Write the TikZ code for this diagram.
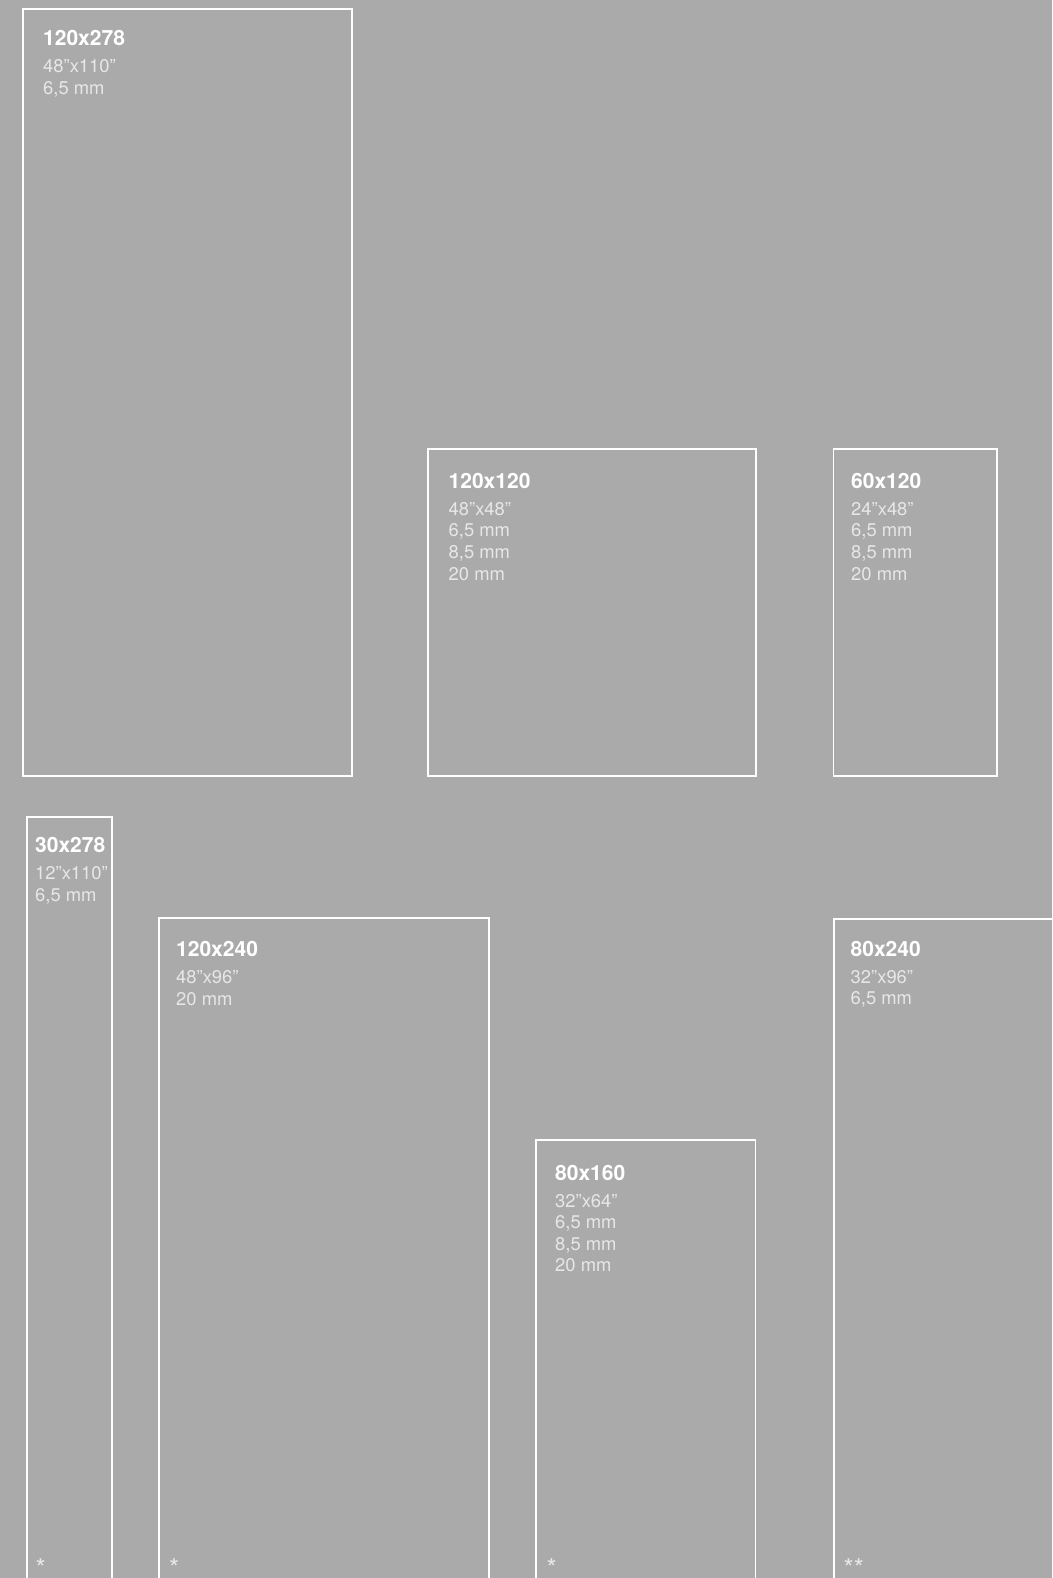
\documentclass[tikz,border=0pt]{standalone}
\usepackage{fontspec}
\setmainfont{TeX Gyre Heros}
\definecolor{sfondo}{HTML}{A9AAA9}
\definecolor{grigiochiaro}{HTML}{E6E7E6}
\tikzset{
    lastra/.style={draw=white, line width=1.8pt},
    titolo/.style={anchor=base west, inner sep=0pt, text=white, font=\fontsize{21}{24}\selectfont\bfseries},
    dettaglio/.style={anchor=base west, inner sep=0pt, text=grigiochiaro, font=\fontsize{18.4}{22}\selectfont},
    nota/.style={anchor=base west, inner sep=0pt, text=grigiochiaro, font=\fontsize{26}{26}\selectfont}
}
\begin{document}
\begin{tikzpicture}[x=1pt, y=-1pt]
    % Sfondo
    \fill[sfondo] (0,0) rectangle (1052,1578);
    \clip (0,0) rectangle (1052,1578);
    \useasboundingbox (0,0) rectangle (1052,1578);
    % Lastra 120x278
    \draw[lastra] (23,9) rectangle (352,776);
    \node[titolo] (t120x278) at (43,45.7) {120x278};
    \foreach \riga [count=\i] in {48”x110”, {6,5 mm}}
        \node[dettaglio] (d120x278-\i) at (43,{45.7+5.4+21.6*\i}) {\riga};
    % Lastra 120x120
    \draw[lastra] (428.3,449) rectangle (755.7,776);
    \node[titolo] (t120x120) at (448.5,488.3) {120x120};
    \foreach \riga [count=\i] in {48”x48”, {6,5 mm}, {8,5 mm}, 20 mm}
        \node[dettaglio] (d120x120-\i) at (448.5,{488.3+5.4+21.6*\i}) {\riga};
    % Lastra 60x120
    \draw[lastra] (833.5,449) rectangle (996.6,776);
    \node[titolo] (t60x120) at (851,488.3) {60x120};
    \foreach \riga [count=\i] in {24”x48”, {6,5 mm}, {8,5 mm}, 20 mm}
        \node[dettaglio] (d60x120-\i) at (851,{488.3+5.4+21.6*\i}) {\riga};
    % Lastra 30x278
    \draw[lastra] (27.3,1600) -- (27.3,817.3) -- (112,817.3) -- (112,1600);
    \node[titolo] (t30x278) at (35,852.7) {30x278};
    \foreach \riga [count=\i] in {12”x110”, {6,5 mm}}
        \node[dettaglio] (d30x278-\i) at (35,{852.7+5.4+21.6*\i}) {\riga};
    \node[nota] (n30x278) at (35.5,1577.5) {*};
    % Lastra 120x240
    \draw[lastra] (159.3,1600) -- (159.3,918.3) -- (489.3,918.3) -- (489.3,1600);
    \node[titolo] (t120x240) at (176,956.7) {120x240};
    \foreach \riga [count=\i] in {48”x96”, 20 mm}
        \node[dettaglio] (d120x240-\i) at (176,{956.7+5.4+21.6*\i}) {\riga};
    \node[nota] (n120x240) at (168.8,1577.5) {*};
    % Lastra 80x160
    \draw[lastra] (536.3,1600) -- (536.3,1139.6) -- (755.5,1139.6) -- (755.5,1600);
    \node[titolo] (t80x160) at (555,1180) {80x160};
    \foreach \riga [count=\i] in {32”x64”, {6,5 mm}, {8,5 mm}, 20 mm}
        \node[dettaglio] (d80x160-\i) at (555,{1180+5.4+21.6*\i}) {\riga};
    \node[nota] (n80x160) at (546.5,1577.5) {*};
    % Lastra 80x240
    \draw[lastra] (833.6,1600) -- (833.6,919) -- (1070,919);
    \node[titolo] (t80x240) at (850.5,956) {80x240};
    \foreach \riga [count=\i] in {32”x96”, {6,5 mm}}
        \node[dettaglio] (d80x240-\i) at (850.5,{956+5.4+21.6*\i}) {\riga};
    \node[nota] (n80x240) at (843.5,1577.5) {**};
\end{tikzpicture}
\end{document}
